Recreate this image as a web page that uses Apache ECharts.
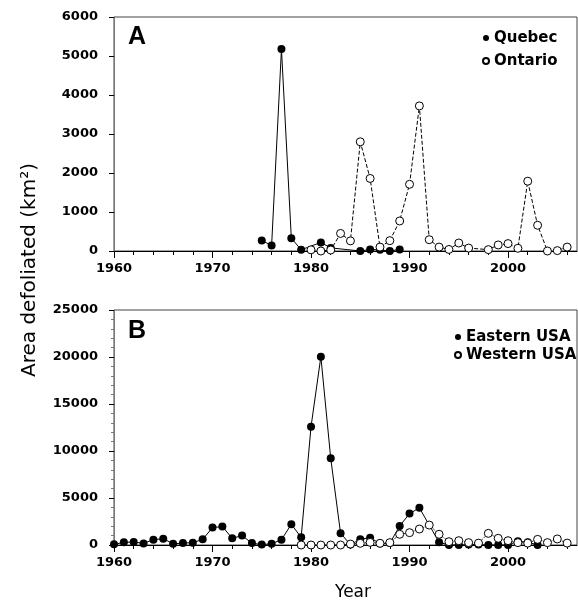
<!DOCTYPE html>
<html>
<head>
<meta charset="utf-8">
<script src="https://cdn.jsdelivr.net/npm/echarts@6/dist/echarts.min.js"></script>
<style>
  html, body { margin: 0; padding: 0; background: #fff; }
  #chart { width: 578px; height: 605px; }
</style>
</head>
<body>
<div id="chart"></div>
<script>
// panel A
const quebecYears = [1975, 1976, 1977, 1978, 1979, 1981, 1982, 1985, 1986, 1987, 1988, 1989];
const quebecArea = [270, 140, 5180, 330, 30, 220, 80, 0, 40, 30, 0, 40];
const ontarioYears = [1980, 1981, 1982, 1983, 1984, 1985, 1986, 1987, 1988, 1989, 1990, 1991, 1992,
  1993, 1994, 1995, 1996, 1998, 1999, 2000, 2001, 2002, 2003, 2004, 2005, 2006];
const ontarioArea = [30, 0, 25, 450, 260, 2800, 1860, 100, 265, 770, 1710, 3720, 290,
  100, 40, 205, 75, 35, 155, 190, 70, 1790, 660, 0, 10, 100];

// panel B
const easternYears = [1960, 1961, 1962, 1963, 1964, 1965, 1966, 1967, 1968, 1969, 1970, 1971, 1972,
  1973, 1974, 1975, 1976, 1977, 1978, 1979, 1980, 1981, 1982, 1983, 1984, 1985, 1986, 1987, 1988,
  1989, 1990, 1991, 1993, 1994, 1995, 1996, 1997, 1998, 1999, 2000, 2001, 2002, 2003];
const easternArea = [70, 280, 320, 170, 570, 670, 130, 200, 250, 600, 1850, 1960, 710,
  1000, 200, 40, 130, 570, 2200, 820, 12580, 20030, 9220, 1240, 50, 600, 780, 150, 200,
  2020, 3340, 3950, 290, 0, 0, 50, 50, 0, 0, 0, 400, 300, 0];
const westernYears = [1979, 1980, 1981, 1982, 1983, 1984, 1985, 1986, 1987, 1988, 1989, 1990, 1991,
  1992, 1993, 1994, 1995, 1996, 1997, 1998, 1999, 2000, 2001, 2002, 2003, 2004, 2005, 2006];
const westernArea = [0, 0, 0, 0, 0, 100, 180, 280, 180, 250, 1140, 1310, 1700,
  2120, 1140, 350, 460, 250, 200, 1240, 710, 460, 250, 200, 600, 250, 640, 200];

const xTickLabels = [1960, 1970, 1980, 1990, 2000];
const xEvenYears = [1960, 1962, 1964, 1966, 1968, 1970, 1972, 1974, 1976, 1978, 1980, 1982, 1984,
  1986, 1988, 1990, 1992, 1994, 1996, 1998, 2000, 2002, 2004, 2006];

const pairs = (xs, ys) => xs.map((x, i) => [x, ys[i]]);

const font = 'DejaVu Sans';
const tickFont = { fontFamily: font, fontSize: 13, fontWeight: 'bold', color: '#000' };

// every 2 years a short tick, labels only on the decades
function mainX (grid) {
  return {
    type: 'value', gridIndex: grid, position: 'bottom', min: 1960, max: 2007, interval: 2,
    axisLine: { lineStyle: { color: '#000', width: 1 } },
    axisTick: { length: 4, customValues: xEvenYears, lineStyle: { color: '#000' } },
    axisLabel: Object.assign({
      margin: 11,
      formatter: v => (xTickLabels.indexOf(v) >= 0 ? String(v) : '')
    }, tickFont),
    splitLine: { show: false }
  };
}
// longer ticks on the decades
function decadeX (grid) {
  return {
    type: 'value', gridIndex: grid, position: 'bottom', min: 1960, max: 2007, interval: 10,
    axisLine: { show: false },
    axisTick: { length: 7, customValues: xTickLabels, lineStyle: { color: '#000' } },
    axisLabel: { show: false },
    splitLine: { show: false }
  };
}

const chart = echarts.init(document.getElementById('chart'));
chart.setOption({
  animation: false,
  backgroundColor: '#fff',
  title: [
    { text: 'A', left: 123, top: 20, textStyle: { fontFamily: 'Liberation Sans', fontSize: 25, fontWeight: 'bold', color: '#000' } },
    { text: 'B', left: 123, top: 314, textStyle: { fontFamily: 'Liberation Sans', fontSize: 25, fontWeight: 'bold', color: '#000' } }
  ],
  legend: [
    {
      data: ['Quebec', 'Ontario'], orient: 'vertical', left: 477, top: 25,
      icon: 'circle', itemWidth: 6, itemHeight: 6, itemGap: 7,
      textStyle: { fontFamily: font, fontSize: 15, fontWeight: 'bold', color: '#000', lineHeight: 16 }
    },
    {
      data: ['Eastern USA', 'Western USA'], orient: 'vertical', left: 449, top: 324,
      icon: 'circle', itemWidth: 6, itemHeight: 6, itemGap: 2,
      textStyle: { fontFamily: font, fontSize: 15, fontWeight: 'bold', color: '#000', lineHeight: 16 }
    }
  ],
  grid: [
    { left: 114, right: 1, top: 17, height: 234, outerBoundsMode: 'none', show: true, borderColor: '#444', borderWidth: 1 },
    { left: 114, right: 1, top: 310, height: 235, outerBoundsMode: 'none', show: true, borderColor: '#444', borderWidth: 1 }
  ],
  xAxis: [
    mainX(0), decadeX(0),
    Object.assign(mainX(1), {
      name: 'Year', nameLocation: 'middle', nameGap: 39,
      nameTextStyle: { fontFamily: font, fontSize: 17, color: '#000', padding: [0, 0, 0, 15] }
    }),
    decadeX(1)
  ],
  yAxis: [
    {
      type: 'value', gridIndex: 0, min: 0, max: 6000, interval: 1000,
      axisLine: { show: true, lineStyle: { color: '#777' } },
      axisTick: { show: true, length: 5, lineStyle: { color: '#000' } },
      axisLabel: Object.assign({ margin: 16, formatter: v => String(v) }, tickFont),
      splitLine: { show: false }
    },
    {
      type: 'value', gridIndex: 1, min: 0, max: 25000, interval: 5000,
      axisLine: { show: true, lineStyle: { color: '#777' } },
      axisTick: { show: true, length: 5, lineStyle: { color: '#000' } },
      minorTick: { show: true, splitNumber: 5, length: 3, lineStyle: { color: '#777' } },
      axisLabel: Object.assign({ margin: 16, formatter: v => String(v) }, tickFont),
      splitLine: { show: false }
    }
  ],
  graphic: [
    {
      type: 'text', x: 30, y: 270, rotation: Math.PI / 2,
      style: {
        text: 'Area defoliated (km²)', fontFamily: font, fontSize: 20, fill: '#000',
        textAlign: 'center', textVerticalAlign: 'middle'
      }
    }
  ],
  series: [
    {
      name: 'Quebec', type: 'line', xAxisIndex: 0, yAxisIndex: 0,
      data: pairs(quebecYears, quebecArea),
      symbol: 'circle', symbolSize: 8,
      itemStyle: { color: '#000' },
      lineStyle: { color: '#000', width: 1 }
    },
    {
      name: 'Ontario', type: 'line', xAxisIndex: 0, yAxisIndex: 0,
      data: pairs(ontarioYears, ontarioArea),
      symbol: 'circle', symbolSize: 8,
      itemStyle: { color: '#fff', borderColor: '#000', borderWidth: 1 },
      lineStyle: { color: '#000', width: 1, type: 'dashed' }
    },
    {
      name: 'Eastern USA', type: 'line', xAxisIndex: 2, yAxisIndex: 1,
      data: pairs(easternYears, easternArea),
      symbol: 'circle', symbolSize: 8,
      itemStyle: { color: '#000' },
      lineStyle: { color: '#000', width: 1 }
    },
    {
      name: 'Western USA', type: 'line', xAxisIndex: 2, yAxisIndex: 1,
      data: pairs(westernYears, westernArea),
      symbol: 'circle', symbolSize: 8,
      itemStyle: { color: '#fff', borderColor: '#000', borderWidth: 1 },
      lineStyle: { color: '#000', width: 1, type: 'dotted' }
    }
  ]
});
window.addEventListener('resize', () => chart.resize());
</script>
</body>
</html>
